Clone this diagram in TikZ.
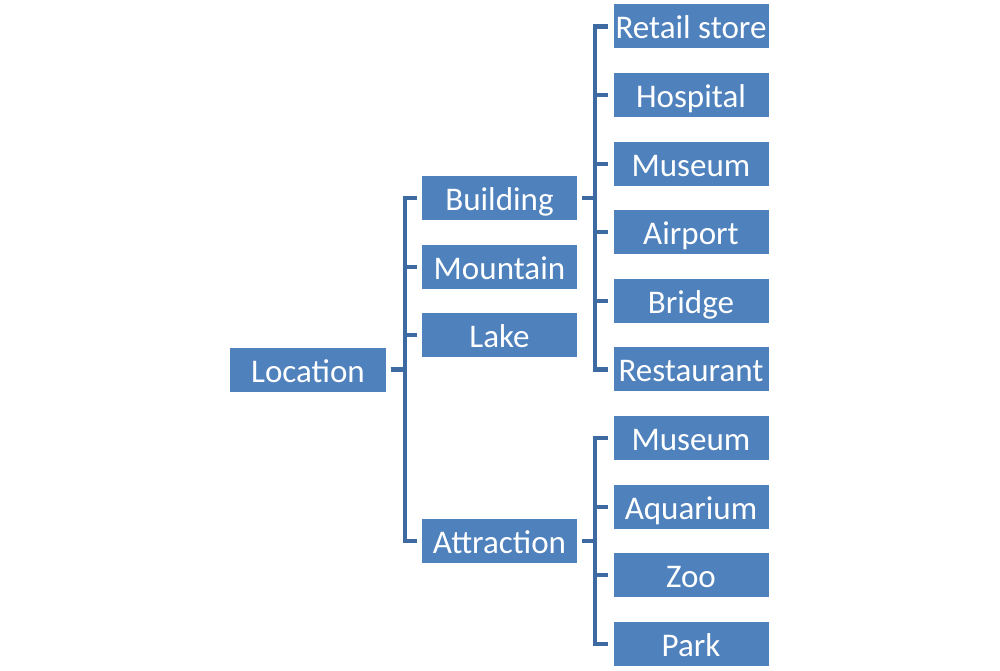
\documentclass[tikz,border=0pt]{standalone}
\usepackage{fontspec}
\setmainfont{Carlito}
\usepackage{xcolor}
\usepackage{tikz}
\definecolor{boxblue}{RGB}{79,129,189}
\definecolor{lineblue}{RGB}{61,106,160}
\tikzstyle{item} = [rectangle, minimum width=3.1cm, minimum height=0.88cm, inner sep=0pt, text height=0.5cm, text depth=0cm, text centered, fill=boxblue, text=white, font=\fontsize{18.8}{22}\selectfont]
\tikzstyle{line} = [draw=lineblue, line width=2.3pt]

\begin{document}
\begin{tikzpicture}[node distance=1.372cm]
	
	\useasboundingbox (-6.16,-6.03) rectangle (13.84,7.39);
	
	\node (p1) [item] at (0,0) {Location};
	
	\node (p2) [item] at (3.83,3.43) {Building};
	\node (p3) [item, below of = p2] {Mountain};
	\node (p4) [item, below of = p3] {Lake};
	\node (p5) [item] at (3.83,-3.43) {Attraction};
	
	\draw [line] ([xshift=0.1cm]p1.east) -- ++(0.28,0) |- ([xshift=-0.1cm]p2.west);
	\draw [line] ([xshift=0.1cm]p1.east) -- ++(0.28,0) |- ([xshift=-0.1cm]p3.west);
	\draw [line] ([xshift=0.1cm]p1.east) -- ++(0.28,0) |- ([xshift=-0.1cm]p4.west);
	\draw [line] ([xshift=0.1cm]p1.east) -- ++(0.28,0) |- ([xshift=-0.1cm]p5.west);
	
	\node (p6) [item] at (7.66,6.86) {Retail store};
	\node (p7) [item, below of = p6] {Hospital};
	\node (p8) [item, below of = p7] {Museum};
	\node (p9) [item, below of = p8] {Airport};
	\node (p10) [item, below of = p9] {Bridge};
	\node (p11) [item, below of = p10] {Restaurant};
	
	\foreach \n in {p6,p7,p8,p9,p10,p11}
		\draw [line] ([xshift=0.1cm]p2.east) -- ++(0.26,0) |- ([xshift=-0.1cm]\n.west);
	
	\node (p12) [item, below of = p11] {Museum};
	\node (p13) [item, below of = p12] {Aquarium};
	\node (p14) [item, below of = p13] {Zoo};
	\node (p15) [item, below of = p14] {Park};
	
	\foreach \n in {p12,p13,p14,p15}
		\draw [line] ([xshift=0.1cm]p5.east) -- ++(0.26,0) |- ([xshift=-0.1cm]\n.west);
	
\end{tikzpicture}
\end{document}
